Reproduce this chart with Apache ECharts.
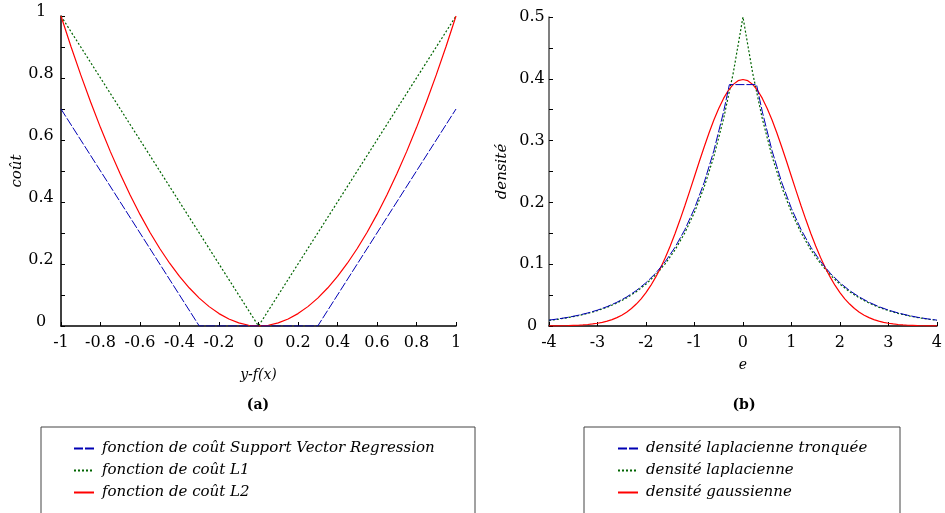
<!DOCTYPE html>
<html><head><meta charset="utf-8">
<script src="https://cdn.jsdelivr.net/npm/echarts@6/dist/echarts.min.js"></script>
<style>html,body{margin:0;padding:0;background:#fff}#c{width:945px;height:513px}</style>
</head><body><div id="c"></div><script>
// ---- Panel (a): loss functions ----
var xSVR = [-1, -0.3, 0.3, 1];
var ySVR = [0.7, 0, 0, 0.7];
var xL1 = [-1, 0, 1];
var yL1 = [1, 0, 1];
var xL2 = [-1,-0.95,-0.9,-0.85,-0.8,-0.75,-0.7,-0.65,-0.6,-0.55,-0.5,-0.45,-0.4,-0.35,-0.3,-0.25,-0.2,-0.15,-0.1,-0.05,0,
           0.05,0.1,0.15,0.2,0.25,0.3,0.35,0.4,0.45,0.5,0.55,0.6,0.65,0.7,0.75,0.8,0.85,0.9,0.95,1];
var yL2 = [1,0.9025,0.81,0.7225,0.64,0.5625,0.49,0.4225,0.36,0.3025,0.25,0.2025,0.16,0.1225,0.09,0.0625,0.04,0.0225,0.01,0.0025,0,
           0.0025,0.01,0.0225,0.04,0.0625,0.09,0.1225,0.16,0.2025,0.25,0.3025,0.36,0.4225,0.49,0.5625,0.64,0.7225,0.81,0.9025,1];
var namesA = ['fonction de coût Support Vector Regression', 'fonction de coût L1', 'fonction de coût L2'];

// ---- Panel (b): densities ----
var eGrid = [-4,-3.8,-3.6,-3.4,-3.2,-3,-2.8,-2.6,-2.4,-2.2,-2,-1.8,-1.6,-1.4,-1.2,-1,-0.8,-0.6,-0.4,-0.2,0,
             0.2,0.4,0.6,0.8,1,1.2,1.4,1.6,1.8,2,2.2,2.4,2.6,2.8,3,3.2,3.4,3.6,3.8,4];
var lapVals = [0.0092,0.0112,0.0137,0.0167,0.0204,0.0249,0.0304,0.0371,0.0454,0.0554,0.0677,0.0827,0.1010,0.1233,0.1506,0.1839,0.2247,0.2744,0.3352,0.4094,0.5,
               0.4094,0.3352,0.2744,0.2247,0.1839,0.1506,0.1233,0.1010,0.0827,0.0677,0.0554,0.0454,0.0371,0.0304,0.0249,0.0204,0.0167,0.0137,0.0112,0.0092];
var eGauss = [-4,-3.9,-3.8,-3.7,-3.6,-3.5,-3.4,-3.3,-3.2,-3.1,-3,-2.9,-2.8,-2.7,-2.6,-2.5,-2.4,-2.3,-2.2,-2.1,-2,
              -1.9,-1.8,-1.7,-1.6,-1.5,-1.4,-1.3,-1.2,-1.1,-1,-0.9,-0.8,-0.7,-0.6,-0.5,-0.4,-0.3,-0.2,-0.1,0,
              0.1,0.2,0.3,0.4,0.5,0.6,0.7,0.8,0.9,1,1.1,1.2,1.3,1.4,1.5,1.6,1.7,1.8,1.9,2,
              2.1,2.2,2.3,2.4,2.5,2.6,2.7,2.8,2.9,3,3.1,3.2,3.3,3.4,3.5,3.6,3.7,3.8,3.9,4];
var gaussVals = [0.0001,0.0002,0.0003,0.0004,0.0006,0.0009,0.0012,0.0017,0.0024,0.0033,0.0044,0.0060,0.0079,0.0104,0.0136,0.0175,0.0224,0.0283,0.0355,0.0440,0.0540,
                 0.0656,0.0790,0.0940,0.1109,0.1295,0.1497,0.1714,0.1942,0.2179,0.2420,0.2661,0.2897,0.3123,0.3332,0.3521,0.3683,0.3814,0.3910,0.3970,0.3989,
                 0.3970,0.3910,0.3814,0.3683,0.3521,0.3332,0.3123,0.2897,0.2661,0.2420,0.2179,0.1942,0.1714,0.1497,0.1295,0.1109,0.0940,0.0790,0.0656,0.0540,
                 0.0440,0.0355,0.0283,0.0224,0.0175,0.0136,0.0104,0.0079,0.0060,0.0044,0.0033,0.0024,0.0017,0.0012,0.0009,0.0006,0.0004,0.0003,0.0002,0.0001];
var eTrunc = [-4,-3.8,-3.6,-3.4,-3.2,-3,-2.8,-2.6,-2.4,-2.2,-2,-1.8,-1.6,-1.4,-1.2,-1,-0.8,-0.6,-0.4,-0.28,
              0.28,0.4,0.6,0.8,1,1.2,1.4,1.6,1.8,2,2.2,2.4,2.6,2.8,3,3.2,3.4,3.6,3.8,4];
var truncVals = [0.0095,0.0116,0.0141,0.0173,0.0211,0.0257,0.0314,0.0384,0.0469,0.0573,0.0700,0.0854,0.1044,0.1275,0.1557,0.1901,0.2322,0.2836,0.3464,0.3906,
                 0.3906,0.3464,0.2836,0.2322,0.1901,0.1557,0.1275,0.1044,0.0854,0.0700,0.0573,0.0469,0.0384,0.0314,0.0257,0.0211,0.0173,0.0141,0.0116,0.0095];
var namesB = ['densité laplacienne tronquée', 'densité laplacienne', 'densité gaussienne'];

var BLUE = '#0000b4', GREEN = '#006400', RED = '#ff0000';
var FONT = 'DejaVu Serif';

function pairs(xs, ys) { return xs.map(function (x, i) { return [x, ys[i]]; }); }

var chart = echarts.init(document.getElementById('c'), null, { renderer: 'canvas' });

function yAxisCfg(gridIndex, max, interval, name, nameGap, lineColor, raise, labelMargin) {
  var label = { fontFamily: FONT, fontSize: 16, color: '#000', margin: labelMargin, align: 'center' };
  if (raise) { label.verticalAlign = 'bottom'; label.lineHeight = raise * 2; }
  return {
    type: 'value', gridIndex: gridIndex, min: 0, max: max, interval: interval,
    name: name, nameLocation: 'middle', nameGap: nameGap,
    nameTextStyle: { fontFamily: FONT, fontStyle: 'italic', fontSize: 15, color: '#000' },
    axisLine: { show: true, onZero: false, lineStyle: { color: lineColor, width: 1.5 } },
    axisTick: { show: true, inside: true, length: 4, lineStyle: { color: '#000' } },
    minorTick: { show: true, splitNumber: 2, length: 4, lineStyle: { color: '#000' } },
    splitLine: { show: false },
    axisLabel: label
  };
}
function xAxisCfg(gridIndex, min, max, interval, name, nameGap) {
  return {
    type: 'value', gridIndex: gridIndex, min: min, max: max, interval: interval,
    name: name, nameLocation: 'middle', nameGap: nameGap,
    nameTextStyle: { fontFamily: FONT, fontStyle: 'italic', fontSize: 14, color: '#000' },
    axisLine: { show: true, onZero: false, lineStyle: { color: '#000', width: 1.5 } },
    axisTick: { show: true, inside: true, length: 4, lineStyle: { color: '#000' } },
    splitLine: { show: false },
    axisLabel: { fontFamily: FONT, fontSize: 16, color: '#000', margin: 9 }
  };
}
function legendCfg(names, left, textPad) {
  return {
    data: names, orient: 'vertical', left: left, top: 441, padding: 0,
    itemWidth: 20, itemHeight: 14, itemGap: 7,
    itemStyle: { opacity: 0 },
    textStyle: { fontFamily: FONT, fontStyle: 'italic', fontSize: 15, color: '#000', padding: [0, 0, 0, textPad] },
    selectedMode: false
  };
}

var option = {
  animation: false,
  backgroundColor: '#fff',
  grid: [
    { left: 61, top: 16, width: 395, height: 310 },
    { left: 549, top: 17, width: 391, height: 309 }
  ],
  xAxis: [
    xAxisCfg(0, -1, 1, 0.2, 'y-f(x)', 42),
    xAxisCfg(1, -4, 4, 1, 'e', 32)
  ],
  yAxis: [
    yAxisCfg(0, 1, 0.2, 'coût', 32, '#000', 4.5, 20),
    yAxisCfg(1, 0.5, 0.1, 'densité', 39, '#555', 0, 17)
  ],
  legend: [
    legendCfg(namesA, 73, 3),
    legendCfg(namesB, 617, 3)
  ],
  graphic: [
    { type: 'rect', shape: { x: 41, y: 427, width: 434, height: 110 }, style: { fill: 'none', stroke: '#444', lineWidth: 1 }, z: 0 },
    { type: 'rect', shape: { x: 584, y: 427, width: 316, height: 110 }, style: { fill: 'none', stroke: '#444', lineWidth: 1 }, z: 0 },
    { type: 'text', x: 258, y: 405, style: { text: '(a)', fontFamily: FONT, fontSize: 14, fontWeight: 'bold', fill: '#000', align: 'center', verticalAlign: 'middle' } },
    { type: 'text', x: 744, y: 405, style: { text: '(b)', fontFamily: FONT, fontSize: 14, fontWeight: 'bold', fill: '#000', align: 'center', verticalAlign: 'middle' } }
  ],
  series: [
    { name: namesA[0], type: 'line', xAxisIndex: 0, yAxisIndex: 0, data: pairs(xSVR, ySVR), showSymbol: false, symbol: 'none',
      lineStyle: { color: BLUE, width: 1, type: [9, 2] }, itemStyle: { color: BLUE }, z: 3 },
    { name: namesA[1], type: 'line', xAxisIndex: 0, yAxisIndex: 0, data: pairs(xL1, yL1), showSymbol: false, symbol: 'none',
      lineStyle: { color: GREEN, width: 1.2, type: [2, 2] }, itemStyle: { color: GREEN }, z: 2 },
    { name: namesA[2], type: 'line', xAxisIndex: 0, yAxisIndex: 0, data: pairs(xL2, yL2), showSymbol: false, symbol: 'none',
      lineStyle: { color: RED, width: 1.2, type: 'solid' }, itemStyle: { color: RED }, z: 2 },
    { name: namesB[0], type: 'line', xAxisIndex: 1, yAxisIndex: 1, data: pairs(eTrunc, truncVals), showSymbol: false, symbol: 'none',
      lineStyle: { color: BLUE, width: 1, type: [9, 2] }, itemStyle: { color: BLUE }, z: 3 },
    { name: namesB[1], type: 'line', xAxisIndex: 1, yAxisIndex: 1, data: pairs(eGrid, lapVals), showSymbol: false, symbol: 'none',
      lineStyle: { color: GREEN, width: 1.2, type: [2, 2] }, itemStyle: { color: GREEN }, z: 2 },
    { name: namesB[2], type: 'line', xAxisIndex: 1, yAxisIndex: 1, data: pairs(eGauss, gaussVals), showSymbol: false, symbol: 'none',
      lineStyle: { color: RED, width: 1.2, type: 'solid' }, itemStyle: { color: RED }, z: 2 }
  ]
};
chart.setOption(option);
</script></body></html>
